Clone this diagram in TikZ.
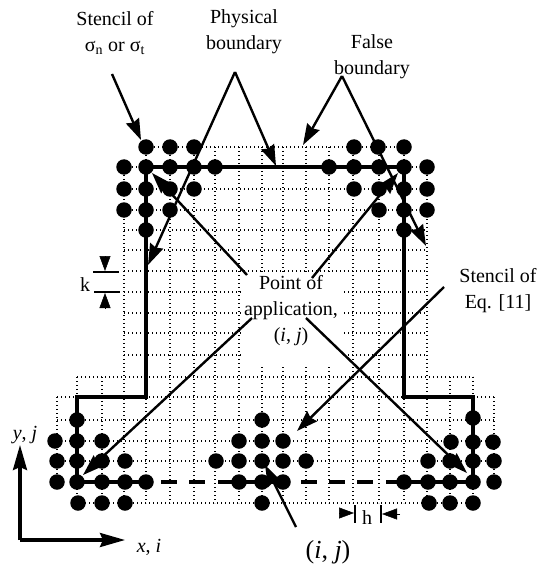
\documentclass[tikz,border=0pt]{standalone}
\usepackage{fontspec}
\setmainfont{Liberation Serif}
\usetikzlibrary{arrows.meta}
\tikzset{
  gridln/.style={line width=1.3pt, dash pattern=on 1.4pt off 2.6pt},
  stencildot/.style={circle, fill=black, inner sep=0pt, minimum size=15.5pt},
  boundln/.style={line width=4pt, line join=miter},
  boundthin/.style={line width=3.4pt},
  callout/.style={line width=2.4pt, -{Stealth[length=21pt,width=14pt,inset=2pt]}},
  axisarr/.style={line width=3.2pt, -{Stealth[length=25pt,width=14pt,inset=3pt]}},
  tick/.style={line width=2.4pt},
  dimarr/.style={-{Triangle[length=15pt,width=11pt]}, line width=.5pt},
  lbl/.style={align=center, inner sep=0pt, font=\fontsize{20}{26}\selectfont}
}
\begin{document}
\begin{tikzpicture}[x=1pt,y=-1pt]
  \useasboundingbox (0,0) rectangle (539,564);
  % dotted mesh
  \foreach \yy in {167,189,210,230,250,271,292,313,333,355} \draw[gridln] (124,\yy) -- (427,\yy);
  \foreach \yy in {397,420,441,461} \draw[gridln] (57,\yy) -- (494,\yy);
  \draw[gridln] (146,147) -- (404,147);
  \foreach \yy in {377,503} \draw[gridln] (77,\yy) -- (473,\yy);
  \foreach \xx in {146,170,194,215,239,262,283,306,329,353,379,404} \draw[gridln] (\xx,147) -- (\xx,503);
  \foreach \xx in {124,427} \draw[gridln] (\xx,167) -- (\xx,503);
  \foreach \xx in {77,102,450,473} \draw[gridln] (\xx,377) -- (\xx,503);
  \foreach \xx in {57,494} \draw[gridln] (\xx,397) -- (\xx,482);
  \fill[white] (241,274) rectangle (344,367);

  % stencil points
  \foreach \xx/\yy in {146/147,170/147,194/147,124/167,146/167,170/167,194/167,215/167,124/189,146/189,170/189,194/189,124/210,146/210,170/210,146/230,
    354/147,378/147,404/147,329/167,354/167,379/167,404/167,427/167,354/189,379/189,404/189,427/189,379/210,404/210,427/210,404/230,
    77/420,55/441,77/441,102/441,57/461,77/461,102/461,125/461,57/482,77/482,102/482,125/482,146/482,78/503,102/503,125/503,
    262/420,239/441,262/441,283/441,216/461,239/461,262/461,283/461,306/461,239/482,262/482,283/482,262/503,
    473/418,451/442,473/442,493/442,428/461,450/461,473/461,494/461,404/482,428/482,450/482,473/482,494/482,429/503,450/503,473/503}
    \node[stencildot] (p\xx-\yy) at (\xx,\yy) {};

  % boundaries
  \coordinate (cl1) at (146,397);
  \coordinate (cl2) at (77,397);
  \coordinate (cr1) at (404,397);
  \coordinate (cr2) at (473,397);
  \draw[boundln] (p146-167.center) -- (p404-167.center);
  \draw[boundln] (p146-167.center) -- (cl1) -- (cl2) -- (p77-482.center);
  \draw[boundln] (p404-167.center) -- (cr1) -- (cr2) -- (p473-482.center);
  \draw[boundthin] (p77-482.center) -- (p146-482.center);
  \draw[boundthin] (p404-482.center) -- (p473-482.center);
  \draw[boundthin] (p239-482.center) -- (p283-482.center);
  \foreach \xa/\xb in {161/177,189/205,218/239,301/317,329/345,357/373,386/404}
    \draw[boundthin] (\xa,482) -- (\xb,482);

  % labels
  \node[lbl] (stenc) at (115,33) {Stencil of\\σ\textsubscript{n} or σ\textsubscript{t}};
  \node[lbl] (phys) at (244,32) {Physical\\boundary};
  \node[lbl] (false) at (372,57) {False\\boundary};
  \node[lbl] (poa) at (291,311) {Point of\\application,\\(\textit{i}, \textit{j})};
  \node[lbl] (stenq) at (498,291) {Stencil of\\Eq. [11]};
  \node[lbl] (klab) at (85,285) {k};
  \node[lbl] (ylab) at (25,435) {\textit{y}, \textit{j}};
  \node[lbl] (xlab) at (149,547) {\textit{x}, \textit{i}};
  \node[lbl] (hlab) at (367,518) {h};
  \node[lbl, font=\fontsize{26}{26}\selectfont] (ijlab) at (328,552) {(\textit{i}, \textit{j})};

  % callouts
  \coordinate (sa) at (112,74);
  \coordinate (pa) at (235,72);
  \coordinate (fa) at (342,76);
  \coordinate (a1) at (247,275);
  \coordinate (a2) at (312,278);
  \coordinate (a3) at (252,318);
  \coordinate (a4) at (306,318);
  \coordinate (qa) at (444,287);
  \coordinate (ia) at (296,527);
  \draw[callout] (sa) -- (141,140);
  \draw[callout] (pa) -- (148,265);
  \draw[callout] (pa) -- (276,166);
  \draw[callout] (fa) -- (303,145);
  \draw[callout] (fa) -- (426,246);
  \draw[callout] (a1) -- (152,173);
  \draw[callout] (a2) -- (398,173);
  \draw[callout] (a3) -- (83,475);
  \draw[callout] (a4) -- (467,473);
  \draw[callout] (qa) -- (297,431);
  \draw[callout] (ia) -- (265,465);

  % axes
  \coordinate (orig) at (20,540);
  \draw[axisarr] (orig) -- (20,445);
  \draw[axisarr] (orig) -- (125,540);

  % k and h marks
  \draw[tick] (93,272) -- (119,272);
  \draw[tick] (94,292) -- (120,292);
  \draw[dimarr] (105,256) -- (105,271);
  \draw[dimarr] (105,308) -- (105,293);
  \draw[tick] (355,505) -- (355,523);
  \draw[tick] (381,505) -- (381,523);
  \draw[dimarr] (339,513) -- (354,513);
  \draw[dimarr] (400,514) -- (382,514);
\end{tikzpicture}
\end{document}
